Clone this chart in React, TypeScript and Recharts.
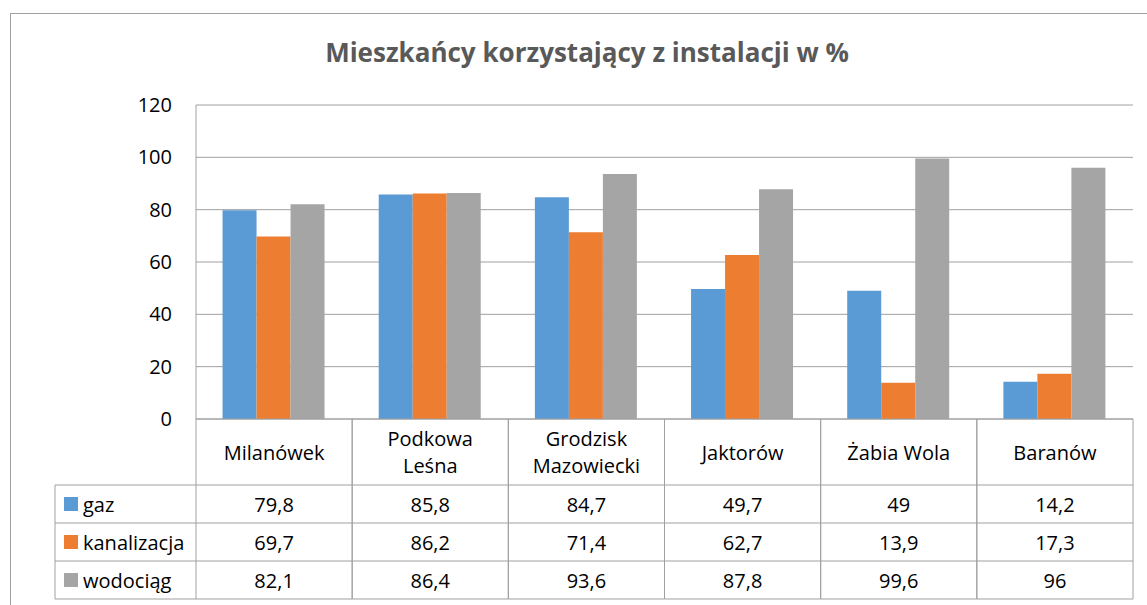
import { BarChart, Bar, XAxis, YAxis, CartesianGrid } from "recharts";

// ─── Data ────────────────────────────────────────────────────────────────────
const categories = [
  "Milanówek",
  "Podkowa\nLeśna",
  "Grodzisk\nMazowiecki",
  "Jaktorów",
  "Żabia Wola",
  "Baranów",
];
const gaz = [79.8, 85.8, 84.7, 49.7, 49, 14.2];
const kanalizacja = [69.7, 86.2, 71.4, 62.7, 13.9, 17.3];
const wodociag = [82.1, 86.4, 93.6, 87.8, 99.6, 96];
const yTicks = [0, 20, 40, 60, 80, 100, 120];

const series = [
  { key: "gaz", name: "gaz", values: gaz, color: "#5B9BD5" },
  { key: "kanalizacja", name: "kanalizacja", values: kanalizacja, color: "#ED7D31" },
  { key: "wodociag", name: "wodociąg", values: wodociag, color: "#A5A5A5" },
];

const data = categories.map((category, i) => ({
  category,
  gaz: gaz[i],
  kanalizacja: kanalizacja[i],
  wodociag: wodociag[i],
}));

// ─── Layout ──────────────────────────────────────────────────────────────────
const W = 1147;
const H = 605;
const PLOT_LEFT = 196;
const PLOT_RIGHT = 1133;
const HEAD_H = 66;
const ROW_H = 38;
const TABLE_H = HEAD_H + ROW_H * series.length;
const LEGEND_W = 141;
const LINE = "#A0A0A0";
const FONT = '"Open Sans", sans-serif';

const fmt = (v: number) => String(v).replace(".", ",");

// ─── Data table drawn as x-axis ticks ────────────────────────────────────────
const TableTick = (props: any) => {
  const { x, y, payload, index } = props;
  const half = payload?.offset ? payload.offset : (PLOT_RIGHT - PLOT_LEFT) / categories.length / 2;
  const left = x - half;
  const right = x + half;
  const lines = String(payload.value).split("\n");
  const rowLines = series.map((_, i) => HEAD_H + ROW_H * i).concat(TABLE_H);

  return (
    <g>
      {/* row-label column with legend keys */}
      {index === 0 && (
        <g>
          <line x1={left - LEGEND_W} x2={left - LEGEND_W} y1={y + HEAD_H} y2={y + TABLE_H} stroke={LINE} />
          {rowLines.map((dy) => (
            <line key={dy} x1={left - LEGEND_W} x2={left} y1={y + dy} y2={y + dy} stroke={LINE} />
          ))}
          {series.map((s, i) => {
            const cy = y + HEAD_H + ROW_H * i + ROW_H / 2;
            return (
              <g key={s.key}>
                <rect x={left - LEGEND_W + 9} y={cy - 7} width={14} height={14} fill={s.color} />
                <text
                  x={left - LEGEND_W + 28}
                  y={cy}
                  dominantBaseline="central"
                  fontSize={20}
                  fontFamily={FONT}
                  fill="#000"
                >
                  {s.name}
                </text>
              </g>
            );
          })}
        </g>
      )}

      <line x1={left} x2={left} y1={y} y2={y + TABLE_H} stroke={LINE} />
      <line x1={right} x2={right} y1={y} y2={y + TABLE_H} stroke={LINE} />
      {rowLines.map((dy) => (
        <line key={dy} x1={left} x2={right} y1={y + dy} y2={y + dy} stroke={LINE} />
      ))}

      {/* category header */}
      {lines.map((ln, i) => (
        <text
          key={i}
          x={x}
          y={y + HEAD_H / 2 + (i - (lines.length - 1) / 2) * 27}
          textAnchor="middle"
          dominantBaseline="central"
          fontSize={20}
          fontFamily={FONT}
          fill="#000"
        >
          {ln}
        </text>
      ))}

      {/* values */}
      {series.map((s, i) => (
        <text
          key={s.key}
          x={x}
          y={y + HEAD_H + ROW_H * i + ROW_H / 2}
          textAnchor="middle"
          dominantBaseline="central"
          fontSize={20}
          fontFamily={FONT}
          fill="#000"
        >
          {fmt(s.values[index])}
        </text>
      ))}
    </g>
  );
};

export default function App() {
  return (
    <div
      style={{
        position: "absolute",
        left: 0,
        top: 0,
        width: W,
        height: H,
        overflow: "hidden",
        background: "#fff",
        fontFamily: FONT,
      }}
    >
      {/* chart area border */}
      <div
        style={{
          position: "absolute",
          left: 10,
          top: 13,
          width: 1200,
          height: 700,
          border: `1px solid ${LINE}`,
        }}
      />

      {/* title */}
      <div
        style={{
          position: "absolute",
          left: 10,
          top: 33,
          width: 1154,
          textAlign: "center",
          fontSize: 26,
          fontWeight: 700,
          color: "#595959",
          lineHeight: "38px",
        }}
      >
        Mieszkańcy korzystający z instalacji w %
      </div>

      <div style={{ position: "absolute", left: 0, top: 0 }}>
        <BarChart
          width={W}
          height={H}
          data={data}
          margin={{ top: 105, right: W - PLOT_RIGHT, left: PLOT_LEFT - 60, bottom: H - 419 - 180 }}
          barCategoryGap="17%"
          barGap={0}
        >
          <CartesianGrid vertical={false} stroke={LINE} />
          <XAxis
            dataKey="category"
            interval={0}
            height={180}
            tickLine={false}
            tickSize={0}
            tickMargin={0}
            axisLine={{ stroke: LINE }}
            tick={<TableTick />}
          />
          <YAxis
            width={60}
            domain={[0, 120]}
            ticks={yTicks}
            tickLine={false}
            tickSize={0}
            tickMargin={24}
            axisLine={{ stroke: LINE }}
            tick={{ fontSize: 20, fill: "#000", fontFamily: FONT }}
          />
          {series.map((s) => (
            <Bar key={s.key} dataKey={s.key} name={s.name} fill={s.color} isAnimationActive={false} />
          ))}
        </BarChart>
      </div>
    </div>
  );
}
